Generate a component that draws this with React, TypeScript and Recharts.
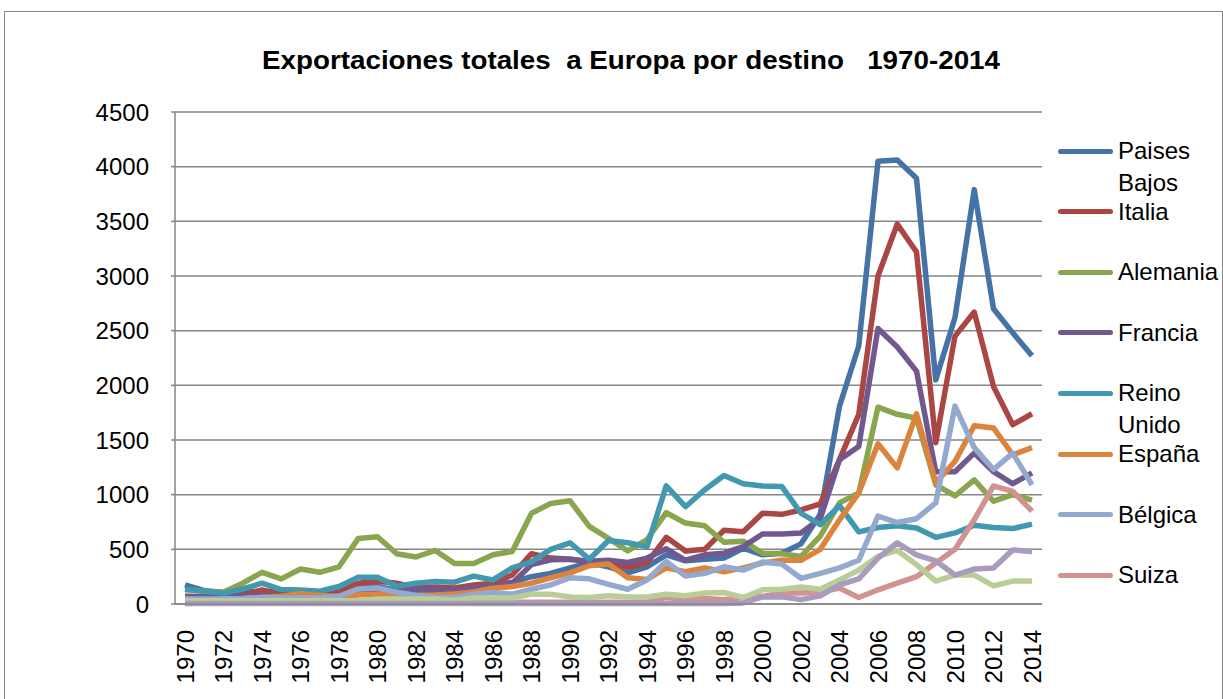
import { LineChart, Line, XAxis, YAxis, CartesianGrid } from 'recharts';

const years = [
  '1970', '1971', '1972', '1973', '1974', '1975', '1976', '1977', '1978', '1979',
  '1980', '1981', '1982', '1983', '1984', '1985', '1986', '1987', '1988', '1989',
  '1990', '1991', '1992', '1993', '1994', '1995', '1996', '1997', '1998', '1999',
  '2000', '2001', '2002', '2003', '2004', '2005', '2006', '2007', '2008', '2009',
  '2010', '2011', '2012', '2013', '2014',
];

const paisesBajos = [
  175, 123, 98, 107, 120, 110, 110, 110, 125, 150,
  160, 125, 110, 117, 107, 155, 175, 200, 250, 280,
  330, 375, 340, 285, 340, 450, 395, 410, 420, 510,
  450, 465, 550, 820, 1810, 2360, 4050, 4060, 3895, 2050,
  2620, 3790, 2700, 2480, 2270,
];
const italia = [
  68, 61, 61, 77, 129, 83, 83, 83, 123, 190,
  209, 190, 150, 155, 147, 175, 190, 265, 460, 420,
  410, 390, 380, 335, 375, 610, 485, 500, 675, 660,
  830, 820, 860, 915, 1320, 1735, 3000, 3475, 3220, 1475,
  2450, 2670, 1990, 1640, 1740,
];
const alemania = [
  130, 120, 110, 190, 290, 230, 320, 290, 340, 600,
  615, 460, 430, 490, 370, 370, 450, 480, 830, 920,
  945, 710, 600, 485, 590, 835, 740, 715, 565, 575,
  465, 460, 435, 620, 925, 1015, 1800, 1735, 1700, 1090,
  990, 1135, 940, 1000, 950,
];
const francia = [
  70, 68, 68, 70, 75, 68, 70, 70, 75, 107,
  129, 117, 138, 135, 123, 150, 160, 190, 360, 405,
  410, 390, 400, 380, 420, 505, 400, 450, 465, 525,
  640, 640, 650, 780, 1320, 1440, 2520, 2350, 2130, 1210,
  1210, 1380, 1210, 1100, 1200,
];
const reinoUnido = [
  138, 117, 98, 138, 190, 132, 129, 117, 160, 245,
  245, 163, 190, 205, 200, 255, 220, 330, 385, 500,
  560, 410, 580, 560, 525, 1080, 890, 1045, 1175, 1100,
  1080, 1075, 830, 725, 900, 660, 700, 715, 695, 610,
  650, 720, 700, 690, 730,
];
const espana = [
  40, 40, 45, 50, 60, 70, 95, 77, 68, 83,
  92, 77, 80, 83, 92, 110, 145, 160, 190, 240,
  285, 350, 365, 240, 225, 330, 295, 330, 295, 330,
  375, 400, 400, 500, 770, 1015, 1465, 1245, 1740, 1110,
  1305, 1630, 1610, 1365, 1430,
];
const belgica = [
  46, 45, 45, 50, 60, 55, 55, 55, 70, 138,
  147, 107, 77, 60, 60, 90, 105, 90, 135, 175,
  240, 230, 180, 135, 220, 390, 255, 280, 340, 310,
  385, 365, 235, 280, 330, 400, 805, 745, 780, 925,
  1810, 1430, 1230, 1380, 1090,
];
const suiza = [
  15, 15, 15, 15, 15, 15, 15, 15, 15, 15,
  15, 15, 15, 15, 15, 15, 15, 15, 15, 15,
  15, 15, 15, 15, 15, 60, 40, 50, 40, 60,
  70, 100, 100, 110, 145, 60, 130, 190, 250, 375,
  500, 770, 1080, 1030, 850,
];
const portugal = [
  30, 30, 30, 30, 30, 30, 30, 30, 30, 30,
  46, 46, 46, 46, 35, 55, 55, 55, 90, 90,
  65, 60, 75, 65, 65, 90, 75, 100, 105, 60,
  130, 135, 155, 135, 220, 310, 435, 490, 360, 210,
  265, 265, 165, 210, 210,
];
const suecia = [
  5, 5, 5, 5, 5, 5, 5, 5, 5, 5,
  5, 5, 5, 5, 5, 5, 5, 5, 5, 5,
  5, 5, 5, 5, 5, 5, 5, 5, 5, 10,
  65, 65, 40, 75, 175, 230, 420, 560, 450, 395,
  265, 320, 330, 495, 480,
];

const yTicks = [0, 500, 1000, 1500, 2000, 2500, 3000, 3500, 4000, 4500];

const series = [
  { key: 'paisesBajos', name: 'Paises Bajos', values: paisesBajos, color: '#4572A7', legend: true },
  { key: 'italia', name: 'Italia', values: italia, color: '#AA4643', legend: true },
  { key: 'alemania', name: 'Alemania', values: alemania, color: '#89A54E', legend: true },
  { key: 'francia', name: 'Francia', values: francia, color: '#71588F', legend: true },
  { key: 'reinoUnido', name: 'Reino Unido', values: reinoUnido, color: '#4198AF', legend: true },
  { key: 'espana', name: 'España', values: espana, color: '#DB843D', legend: true },
  { key: 'belgica', name: 'Bélgica', values: belgica, color: '#93A9CF', legend: true },
  { key: 'suiza', name: 'Suiza', values: suiza, color: '#D19392', legend: true },
  { key: 'portugal', name: 'Portugal', values: portugal, color: '#B9CD96', legend: false },
  { key: 'suecia', name: 'Suecia', values: suecia, color: '#A99BBD', legend: false },
];

const data = years.map((year, i) => {
  const row: Record<string, string | number> = { year };
  series.forEach((s) => {
    row[s.key] = s.values[i];
  });
  return row;
});

const font = '"Liberation Sans", Arial, sans-serif';
const gridColor = '#868686';

function YearTick({ x, y, payload }: any) {
  const ty = y + 18;
  return (
    <text
      x={x}
      y={ty}
      transform={`rotate(-90 ${x} ${ty})`}
      textAnchor="end"
      dominantBaseline="central"
      fontSize={24}
      fontFamily={font}
      fill="#000"
    >
      {payload.value}
    </text>
  );
}

// legend labels wrap like the original: "Paises / Bajos", "Reino / Unido"
const legendLines: Record<string, string[]> = {
  'Paises Bajos': ['Paises', 'Bajos'],
  'Reino Unido': ['Reino', 'Unido'],
};

export default function App() {
  const legendItems = series.filter((s) => s.legend);
  return (
    <div style={{ position: 'absolute', left: 0, top: 0, width: 1223, height: 699, overflow: 'hidden', background: '#fff' }}>
      <div
        style={{
          position: 'absolute',
          left: 4,
          top: 11,
          width: 1217,
          height: 720,
          border: `1px solid ${gridColor}`,
        }}
      />
      <svg style={{ position: 'absolute', left: 0, top: 0 }} width={1223} height={110}>
        <text
          x={631}
          y={69}
          textAnchor="middle"
          fontSize={25}
          fontWeight="bold"
          fontFamily={font}
          textLength={738}
          lengthAdjust="spacingAndGlyphs"
          style={{ whiteSpace: 'pre' }}
        >
          {'Exportaciones totales  a Europa por destino   1970-2014'}
        </text>
      </svg>
      <div style={{ position: 'absolute', left: 0, top: 0 }}>
        <LineChart width={1223} height={699} data={data} margin={{ top: 112, right: 181, bottom: 0, left: 0 }}>
          <CartesianGrid vertical={false} stroke={gridColor} strokeWidth={1.5} />
          <XAxis
            dataKey="year"
            interval={1}
            tick={<YearTick />}
            tickLine={false}
            axisLine={{ stroke: gridColor, strokeWidth: 1.5 }}
            padding={{ left: 10, right: 10 }}
            height={95}
          />
          <YAxis
            domain={[0, 4500]}
            ticks={yTicks}
            width={175}
            tickSize={4}
            tickMargin={22}
            tickLine={{ stroke: gridColor, strokeWidth: 1.5 }}
            axisLine={{ stroke: gridColor, strokeWidth: 1.5 }}
            tick={{ fill: '#000', fontSize: 24, fontFamily: font }}
            interval={0}
          />
          {series.map((s) => (
            <Line
              key={s.key}
              type="linear"
              dataKey={s.key}
              name={s.name}
              stroke={s.color}
              strokeWidth={5.5}
              strokeLinejoin="round"
              dot={false}
              activeDot={false}
              isAnimationActive={false}
            />
          ))}
        </LineChart>
      </div>
      {legendItems.map((s, i) => {
        const lines = legendLines[s.name] ?? [s.name];
        const cy = 151 + i * 60.6;
        return (
          <div key={s.key} style={{ position: 'absolute', left: 1058, top: cy - 16 }}>
            <div
              style={{
                position: 'absolute',
                left: 0,
                top: 13.5,
                width: 55,
                height: 5,
                borderRadius: 3,
                background: s.color,
              }}
            />
            <div
              style={{
                position: 'absolute',
                left: 60,
                top: 0,
                fontFamily: font,
                fontSize: 24,
                lineHeight: '32px',
                color: '#000',
                whiteSpace: 'nowrap',
              }}
            >
              {lines.map((l) => (
                <div key={l}>{l}</div>
              ))}
            </div>
          </div>
        );
      })}
    </div>
  );
}
